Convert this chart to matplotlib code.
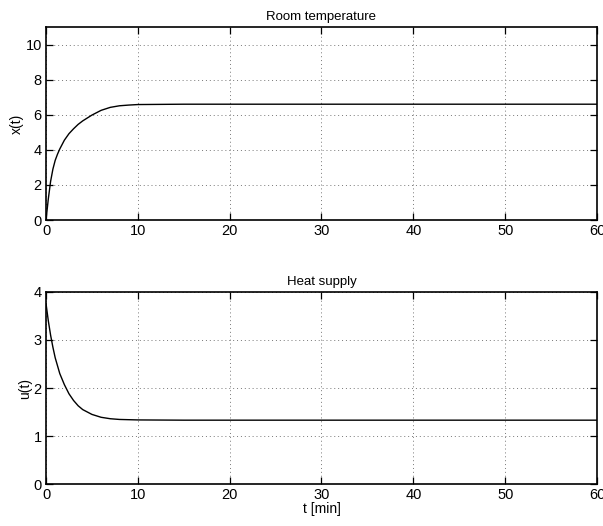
import matplotlib
matplotlib.use("Agg")
import numpy as np
from matplotlib import pyplot as plt

plt.rcParams['font.family'] = ['Liberation Sans', 'DejaVu Sans']
plt.rcParams['font.size'] = 10

# values
t_x = [0, 0.25, 0.5, 0.75, 1, 1.25, 1.5, 2, 2.5, 3, 3.5, 4, 5, 6, 7, 8, 9, 10, 15, 20, 60]
x_t = [0, 1.2, 2.2, 2.9, 3.4, 3.75, 4.05, 4.55, 4.92, 5.2, 5.45, 5.65, 5.98, 6.25, 6.42, 6.51, 6.55, 6.58, 6.6, 6.6, 6.6]

t_u = [0, 0.25, 0.5, 0.75, 1, 1.5, 2, 2.5, 3, 3.5, 4, 5, 6, 7, 8, 10, 15, 60]
u_t = [3.76, 3.4, 3.1, 2.85, 2.63, 2.3, 2.07, 1.88, 1.74, 1.63, 1.55, 1.45, 1.39, 1.36, 1.345, 1.335, 1.33, 1.33]

xticks = [0, 10, 20, 30, 40, 50, 60]


def style_axes(ax, ylim, yticks):
    ax.set_xlim(0, 60)
    ax.set_ylim(*ylim)
    ax.set_xticks(xticks)
    ax.set_yticks(yticks)
    ax.grid(True, linestyle=(0, (1, 3)), color='#777777', linewidth=0.7)
    ax.tick_params(direction='in', top=True, right=True, length=5, width=0.9, pad=3, labelsize=10.5)
    for s in ax.spines.values():
        s.set_linewidth(1.2)


fig = plt.figure(figsize=(6.03, 5.26), dpi=100)

ax1 = fig.add_axes([0.0763, 0.5817, 0.9137, 0.367])
ax1.plot(t_x, x_t, color='black', linewidth=1.0)
style_axes(ax1, (0, 11), [0, 2, 4, 6, 8, 10])
ax1.set_title("Room temperature", fontsize=9.5, pad=5)
ax1.set_ylabel("x(t)", fontsize=10, labelpad=1)

ax2 = fig.add_axes([0.0763, 0.0798, 0.9137, 0.3651])
ax2.plot(t_u, u_t, color='black', linewidth=1.0)
style_axes(ax2, (0, 4), [0, 1, 2, 3, 4])
ax2.set_title("Heat supply", fontsize=9.5, pad=5)
ax2.set_ylabel("u(t)", fontsize=10, labelpad=1)
ax2.set_xlabel("t [min]", fontsize=10, labelpad=0)

fig.savefig("out.png", dpi=100)
